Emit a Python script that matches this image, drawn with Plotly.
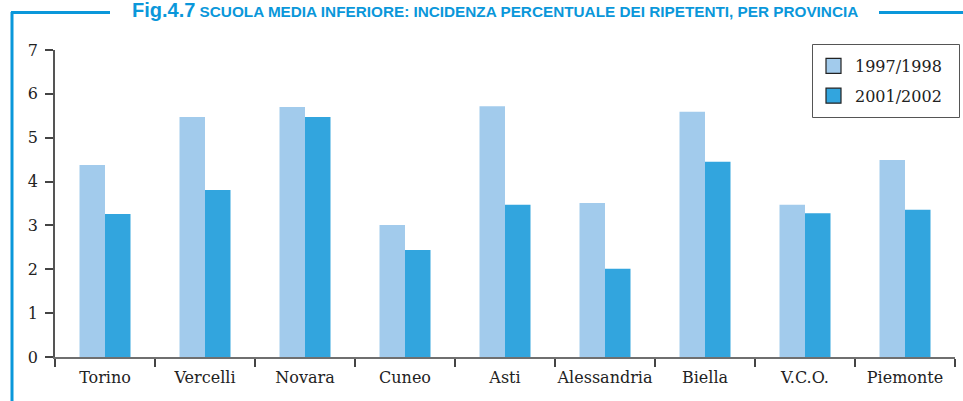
import plotly.graph_objects as go

categories = ["Torino", "Vercelli", "Novara", "Cuneo", "Asti", "Alessandria", "Biella", "V.C.O.", "Piemonte"]
series_1997 = [4.38, 5.47, 5.70, 3.01, 5.72, 3.51, 5.59, 3.47, 4.49]
series_2001 = [3.26, 3.81, 5.47, 2.44, 3.47, 2.01, 4.45, 3.28, 3.36]
series_names = ["1997/1998", "2001/2002"]
y_ticks = [0, 1, 2, 3, 4, 5, 6, 7]

LIGHT = "#A2CBEC"
DARK = "#32A5DE"
FRAME = "#0A97DA"
SERIF = "DejaVu Serif, Liberation Serif, serif"

W, H = 963, 401
ML, MR, MT, MB = 55, 8, 50, 44
PW = W - ML - MR
PH = H - MT - MB


def px(x):
    return (x - ML) / PW


def py(y):
    return (H - MB - y) / PH


fig = go.Figure()
fig.add_trace(go.Bar(x=categories, y=series_1997, name=series_names[0],
                     marker=dict(color=LIGHT, line=dict(width=0)), showlegend=False))
fig.add_trace(go.Bar(x=categories, y=series_2001, name=series_names[1],
                     marker=dict(color=DARK, line=dict(width=0)), showlegend=False))

# legend entries (square swatches with dark outline)
for nm, col in zip(series_names, [LIGHT, DARK]):
    fig.add_trace(go.Scatter(x=[None], y=[None], mode="markers", name=nm,
                             legendgroup=nm,
                             marker=dict(symbol="square", size=15, color=col,
                                         line=dict(color="#222222", width=1.2))))

fig.update_layout(
    width=W, height=H,
    margin=dict(l=ML, r=MR, t=MT, b=MB, pad=0, autoexpand=False),
    paper_bgcolor="white", plot_bgcolor="white",
    barmode="group", bargap=0.49, bargroupgap=0,
    font=dict(family=SERIF, size=16, color="#222222"),
    legend=dict(x=px(812), y=py(49), xanchor="left", yanchor="top",
                borderwidth=0, bgcolor="rgba(0,0,0,0)",
                font=dict(family=SERIF, size=16, color="#222222"),
                traceorder="grouped", tracegroupgap=6, itemwidth=33),
    xaxis=dict(showline=True, linecolor="#6f6f6f", linewidth=2,
               ticks="outside", tickson="boundaries", ticklen=8, tickwidth=1.5,
               tickcolor="#444444", showgrid=False, zeroline=False,
               tickangle=0, automargin=False, ticklabelstandoff=5,
               tickfont=dict(family=SERIF, size=16, color="#222222")),
    yaxis=dict(range=[0, 7], tickvals=y_ticks, showline=True, linecolor="#555555",
               linewidth=1.5, ticks="outside", ticklen=8, tickwidth=1.5,
               tickcolor="#444444", showgrid=False, zeroline=False,
               ticklabelstandoff=4, automargin=False,
               tickfont=dict(family=SERIF, size=16, color="#222222")),
    shapes=[
        dict(type="line", xref="paper", yref="paper", x0=px(12), x1=px(12), y0=py(12), y1=py(H + 2),
             line=dict(color=FRAME, width=3)),
        dict(type="line", xref="paper", yref="paper", x0=px(11), x1=px(110), y0=py(12.5), y1=py(12.5),
             line=dict(color=FRAME, width=3)),
        dict(type="line", xref="paper", yref="paper", x0=px(879), x1=px(W + 2), y0=py(12.5), y1=py(12.5),
             line=dict(color=FRAME, width=3)),
        # legend frame
        dict(type="rect", xref="paper", yref="paper", x0=px(812.5), x1=px(959.5), y0=py(44.5), y1=py(117.5),
             line=dict(color="#555555", width=1)),
    ],
    annotations=[
        dict(xref="paper", yref="paper", x=px(495), y=py(23), xanchor="center", yanchor="bottom",
             showarrow=False,
             text="<b><span style='font-size:20px'>Fig.4.7</span> SCUOLA MEDIA INFERIORE: INCIDENZA PERCENTUALE DEI RIPETENTI, PER PROVINCIA</b>",
             font=dict(family="Liberation Sans, Arial, sans-serif", size=15.3, color=FRAME)),
    ],
)

fig.write_html("out.html", config={"displayModeBar": False},
               post_script="document.body.style.margin='0';document.body.style.padding='0';")
